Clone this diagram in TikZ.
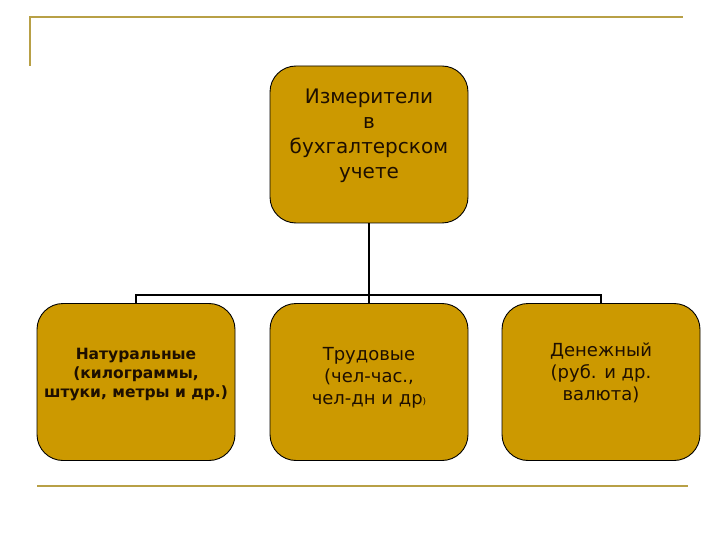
\documentclass[tikz,border=0pt]{standalone}
\usepackage{fontspec}
\setmainfont{DejaVu Sans}
\begin{document}
\begin{tikzpicture}[x=1pt,y=-1pt,
  boxst/.style={draw=black, line width=0.9pt, fill=gold, rounded corners=26pt, minimum width=198pt, minimum height=157pt, inner sep=0pt},
  txtst/.style={align=center, text=txt, inner sep=0pt},
  deco/.style={draw=olive2, line width=2pt},
  conn/.style={draw=black, line width=1.6pt}]
\definecolor{gold}{RGB}{204,153,0}
\definecolor{olive2}{RGB}{184,160,70}
\definecolor{txt}{RGB}{30,15,0}
\useasboundingbox (0,0) rectangle (720,540);
\draw[deco] (30,66) -- (30,17) -- (683,17);
\draw[deco] (37,486) -- (688,486);
\node[boxst] (top) at (369,144.5) {};
\node[boxst] (nat) at (136,382) {};
\node[boxst] (lab) at (369,382) {};
\node[boxst] (mon) at (601,382) {};
\node[txtst, font=\fontsize{20}{25}\selectfont] (toptx) at (369,136) {Измерители\\в\\бухгалтерском\\учете};
\node[txtst, font=\bfseries\fontsize{15.5}{19}\selectfont] (nattx) at (136,375) {Натуральные\\(килограммы,\\штуки, метры и др.)};
\node[txtst, font=\fontsize{18}{22}\selectfont] (labtx) at (369,378) {Трудовые\\(чел-час.,\\чел-дн и др{\fontsize{9}{9}\selectfont)}};
\node[txtst, font=\fontsize{18}{22}\selectfont] (montx) at (601,373) {Денежный\\(руб. и др.\\валюта)};
\coordinate (bus) at (369,295);
\draw[conn] (top.south) -- (bus);
\draw[conn] (nat.north) -- (nat.north |- bus) -- (mon.north |- bus) -- (mon.north);
\draw[conn] (bus) -- (lab.north);
\end{tikzpicture}
\end{document}
